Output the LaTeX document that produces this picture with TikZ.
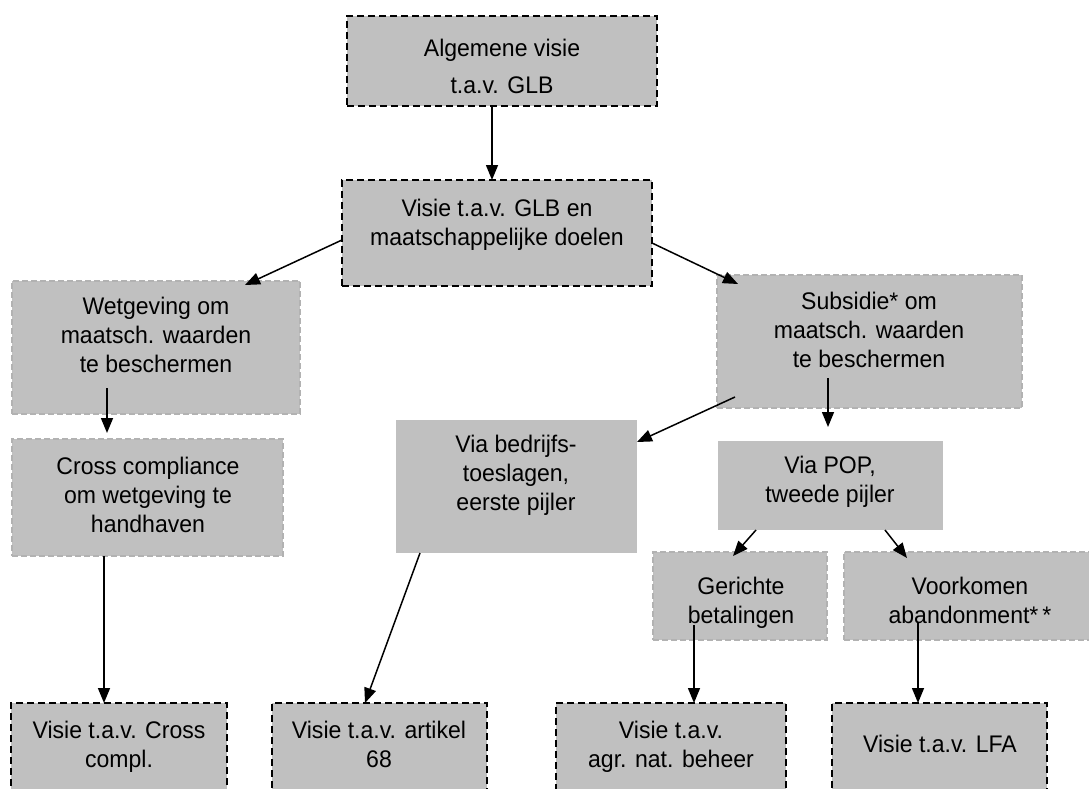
\documentclass[tikz,border=0pt]{standalone}
\usepackage{fontspec}
\setmainfont{Liberation Sans}[FakeStretch=0.96]
\usetikzlibrary{arrows.meta,calc}
\definecolor{boxfill}{HTML}{C0C0C0}
\definecolor{lightedge}{HTML}{B2B2B2}
\begin{document}
\begin{tikzpicture}[x=1pt,y=-1pt,
  dbox/.style={rectangle, fill=boxfill, draw=black, line width=1.6pt, dash pattern=on 7pt off 4pt, inner sep=0pt, outer sep=0pt},
  lbox/.style={rectangle, fill=boxfill, draw=lightedge, line width=1.2pt, dash pattern=on 6pt off 3pt, inner sep=0pt, outer sep=0pt},
  pbox/.style={rectangle, fill=boxfill, draw=none, inner sep=0pt, outer sep=0pt},
  txt/.style={align=center, anchor=base, inner sep=0pt, font=\fontsize{24pt}{29pt}\selectfont},
  arr/.style={line width=1.5pt, -{Triangle[length=15pt,width=12pt]}}]
\clip (0,0) rectangle (1089,789);
\fill[white] (0,0) rectangle (1089,789);
% boxes
\node[dbox, minimum width=310pt, minimum height=90pt] (A) at (502,61) {};
\node[dbox, minimum width=310pt, minimum height=106pt] (B) at (497,233) {};
\node[lbox, minimum width=288pt, minimum height=133pt] (C) at (156,347.5) {};
\node[lbox, minimum width=305pt, minimum height=133pt] (D) at (869.5,341.5) {};
\node[lbox, minimum width=271pt, minimum height=117pt] (E) at (147.5,497.5) {};
\node[pbox, minimum width=241pt, minimum height=133pt] (F) at (516.5,486.5) {};
\node[pbox, minimum width=225pt, minimum height=89pt] (G) at (830.5,485.5) {};
\node[lbox, minimum width=174pt, minimum height=88pt] (H) at (740,596) {};
\node[lbox, minimum width=252pt, minimum height=88pt] (I) at (970,596) {};
\node[dbox, minimum width=216pt, minimum height=97pt] (BC) at (119,751.5) {};
\node[dbox, minimum width=215pt, minimum height=97pt] (B68) at (379.5,751.5) {};
\node[dbox, minimum width=230pt, minimum height=97pt] (BA) at (671,751.5) {};
\node[dbox, minimum width=215pt, minimum height=97pt] (BL) at (939.5,751.5) {};
% texts (anchored at the baseline of the last line)
\node[txt] (tA) at (502,94) {Algemene visie\\[8pt]t.a.v. GLB};
\node[txt] (tB) at (497,245) {Visie t.a.v. GLB en\\maatschappelijke doelen};
\node[txt] (tC) at (156,372) {Wetgeving om\\maatsch. waarden\\te beschermen};
\node[txt] (tD) at (869,367) {Subsidie* om\\maatsch. waarden\\te beschermen};
\node[txt] (tE) at (148,532) {Cross compliance\\om wetgeving te\\handhaven};
\node[txt] (tF) at (516,510) {Via bedrijfs-\\toeslagen,\\eerste pijler};
\node[txt] (tG) at (830,502) {Via POP,\\tweede pijler};
\node[txt] (tH) at (741,623) {Gerichte\\betalingen};
\node[txt] (tI) at (970,623) {Voorkomen\\abandonment*\,*};
\node[txt] (tBC) at (119,767) {Visie t.a.v. Cross\\compl.};
\node[txt] (tB68) at (379,767) {Visie t.a.v. artikel\\68};
\node[txt] (tBA) at (671,767) {Visie t.a.v.\\agr. nat. beheer};
\node[txt] (tBL) at (940,752) {Visie t.a.v. LFA};
% arrows
\draw[arr] ($(A.south)+(-10,0)$) -- ($(B.north)+(-5,0)$);
\draw[arr] ($(B.west)+(0,7)$) -- ($(C.north)+(89,4)$);
\draw[arr] ($(B.east)+(0,10)$) -- ($(D.north west)+(21,9)$);
\draw[arr] ($(C.south)+(-49,-26)$) -- ($(E.north)+(-40.5,-6)$);
\draw[arr] ($(E.south)+(-43.5,0)$) -- ($(BC.north)+(-15,0)$);
\draw[arr] ($(D.south west)+(18,-11)$) -- ($(F.north east)+(0,22)$);
\draw[arr] ($(D.south)+(-41.5,-30)$) -- ($(G.north)+(-2.5,-14)$);
\draw[arr] ($(F.south)+(-96.5,0)$) -- ($(B68.north)+(-14.5,0)$);
\draw[arr] ($(G.south west)+(38,0)$) -- ($(H.north)+(-7,4)$);
\draw[arr] ($(G.south east)+(-58,0)$) -- ($(I.north)+(-63,6)$);
\draw[arr] ($(H.south)+(-46,-15)$) -- ($(BA.north)+(23,0)$);
\draw[arr] ($(I.south)+(-52,-18)$) -- ($(BL.north)+(-21.5,0)$);
\end{tikzpicture}
\end{document}
